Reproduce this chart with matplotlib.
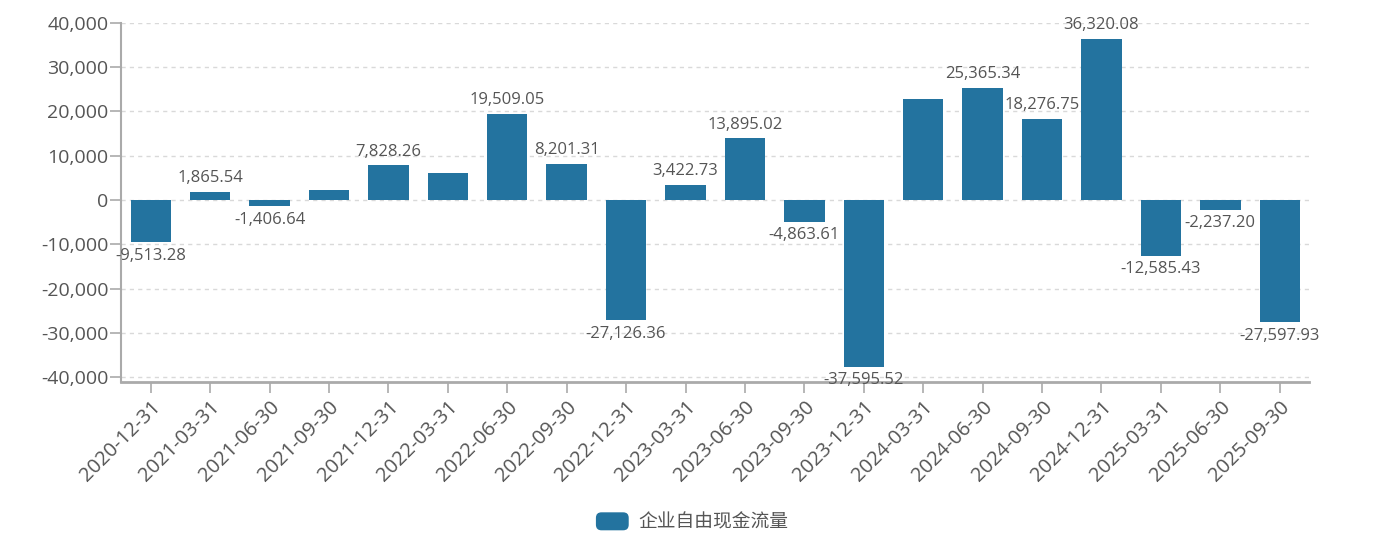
import matplotlib
matplotlib.use('Agg')
import matplotlib.pyplot as plt
from matplotlib.patches import Patch, FancyBboxPatch
from matplotlib.legend_handler import HandlerPatch
from matplotlib.ticker import FuncFormatter, MultipleLocator

plt.rcParams['font.family'] = ['Open Sans', 'Noto Sans CJK SC', 'DejaVu Sans']

categories = ['2020-12-31', '2021-03-31', '2021-06-30', '2021-09-30', '2021-12-31',
              '2022-03-31', '2022-06-30', '2022-09-30', '2022-12-31', '2023-03-31',
              '2023-06-30', '2023-09-30', '2023-12-31', '2024-03-31', '2024-06-30',
              '2024-09-30', '2024-12-31', '2025-03-31', '2025-06-30', '2025-09-30']
values = [-9513.28, 1865.54, -1406.64, 2300.00, 7828.26,
          6000.00, 19509.05, 8201.31, -27126.36, 3422.73,
          13895.02, -4863.61, -37595.52, 22700.00, 25365.34,
          18276.75, 36320.08, -12585.43, -2237.20, -27597.93]
label_shown = [True, True, True, False, True,
               False, True, True, True, True,
               True, True, True, False, True,
               True, True, True, True, True]
series_name = '企业自由现金流量'

bar_color = '#23739f'
text_color = '#555555'
axis_color = '#aaaaaa'

fig = plt.figure(figsize=(13.99, 5.38), dpi=100)
ax = fig.add_axes([0.0865, 0.2905, 0.8495, 0.6673])

x = list(range(len(categories)))
ax.bar(x, values, width=0.68, color=bar_color, zorder=3)

for xi, v, show in zip(x, values, label_shown):
    if not show:
        continue
    txt = f'{v:,.2f}'
    if v >= 0:
        ax.annotate(txt, (xi, v), xytext=(0, 4), textcoords='offset points',
                    ha='center', va='bottom', fontsize=12, color=text_color, zorder=5)
    else:
        ax.annotate(txt, (xi, v), xytext=(0, -4), textcoords='offset points',
                    ha='center', va='top', fontsize=12, color=text_color, zorder=5)

ax.set_xlim(-0.5, len(categories) - 0.5)
ax.set_ylim(-41000, 40000)
ax.yaxis.set_major_locator(MultipleLocator(10000))
ax.yaxis.set_major_formatter(FuncFormatter(lambda v, p: f'{int(v):,}'))
ax.set_xticks(x)
ax.set_xticklabels(categories, rotation=45, ha='right', rotation_mode='anchor',
                   fontsize=14.5, color=text_color)
ax.tick_params(axis='y', labelsize=14, labelcolor=text_color, color=axis_color,
               length=8, width=1.2, pad=1)
ax.tick_params(axis='x', color=axis_color, length=8, width=1.2, pad=3)

for yv in range(-40000, 40001, 10000):
    ax.axhline(yv, color='#d9d9d9', linestyle=(0, (3, 3)), linewidth=1, zorder=1)

for s in ['top', 'right']:
    ax.spines[s].set_visible(False)
ax.spines['left'].set_color(axis_color)
ax.spines['left'].set_linewidth(1.5)
ax.spines['bottom'].set_color(axis_color)
ax.spines['bottom'].set_linewidth(2)


class RoundHandler(HandlerPatch):
    def create_artists(self, legend, orig_handle, xdescent, ydescent, width, height, fontsize, trans):
        p = FancyBboxPatch((-xdescent, -ydescent), width, height,
                           boxstyle='round,pad=0,rounding_size=4',
                           facecolor=orig_handle.get_facecolor(), edgecolor='none',
                           transform=trans)
        return [p]


handle = Patch(facecolor=bar_color, label=series_name)
fig.legend(handles=[handle], loc='center', bbox_to_anchor=(692 / 1399, 1 - 522 / 538),
           frameon=False, fontsize=13.5, labelcolor=text_color,
           handlelength=1.75, handleheight=1.1, handletextpad=0.5,
           handler_map={Patch: RoundHandler()})

fig.savefig('out.png', dpi=100)
